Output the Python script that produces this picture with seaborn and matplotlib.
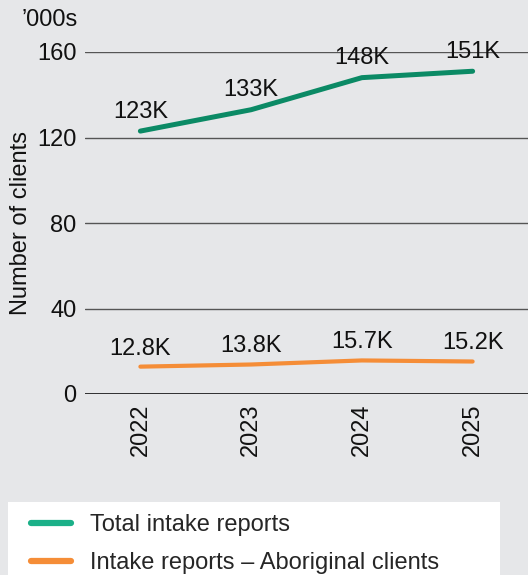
import matplotlib
matplotlib.use("Agg")
import matplotlib.pyplot as plt
from matplotlib.lines import Line2D
from matplotlib.patches import Rectangle
import seaborn as sns
import pandas as pd

years = ["2022", "2023", "2024", "2025"]
total_intake = [123, 133, 148, 151]          # '000s
aboriginal_intake = [12.8, 13.8, 15.7, 15.2]  # '000s
total_labels = ["123K", "133K", "148K", "151K"]
aboriginal_labels = ["12.8K", "13.8K", "15.7K", "15.2K"]
series_names = ["Total intake reports", "Intake reports \u2013 Aboriginal clients"]
y_ticks = [0, 40, 80, 120, 160]

BG = "#e6e7e9"
GREEN = "#0b8a65"
GREEN_KEY = "#1bb088"
ORANGE = "#f58d37"
FS = 17

sns.set_theme(style="white")
plt.rcParams["font.family"] = ["Liberation Sans", "DejaVu Sans"]

df = pd.DataFrame({
    "x": list(range(len(years))) * 2,
    "value": total_intake + aboriginal_intake,
    "series": [series_names[0]] * len(years) + [series_names[1]] * len(years),
})

fig = plt.figure(figsize=(5.28, 5.75), dpi=100, facecolor=BG)
ax = fig.add_axes([85 / 528, 1 - 394 / 575, 443 / 528, (394 - 52) / 575])
ax.set_facecolor(BG)

sns.lineplot(data=df, x="x", y="value", hue="series",
             palette=[GREEN, ORANGE], ax=ax, legend=False,
             linewidth=3.6, solid_capstyle="round")
ax.lines[1].set_linewidth(3.0)

ax.set_xlim(-0.5, 3.5)
ax.set_ylim(0, 160)
ax.set_yticks(y_ticks)
ax.set_yticklabels([str(t) for t in y_ticks])
ax.set_xticks(range(len(years)))
ax.set_xticklabels(years, rotation=90)
ax.tick_params(axis="both", length=0, labelsize=FS, colors="#111111")
ax.tick_params(axis="y", pad=6)
ax.tick_params(axis="x", pad=7)

for s in ax.spines.values():
    s.set_visible(False)
for t in y_ticks:
    ax.axhline(t, color="#111111" if t == 0 else "#555555",
               linewidth=1.2 if t == 0 else 1.0, zorder=0)

for i, (v, lab) in enumerate(zip(total_intake, total_labels)):
    ax.annotate(lab, (i, v), xytext=(0, 14), textcoords="offset points",
                ha="center", va="center", fontsize=FS, color="#111111",
                annotation_clip=False)
for i, (v, lab) in enumerate(zip(aboriginal_intake, aboriginal_labels)):
    ax.annotate(lab, (i, v), xytext=(0, 13), textcoords="offset points",
                ha="center", va="center", fontsize=FS, color="#111111",
                annotation_clip=False)

ax.set_xlabel("")
ax.set_ylabel("Number of clients", fontsize=FS, color="#111111")
ax.yaxis.set_label_coords(-0.12, 0.5)
fig.text(22 / 528, 1 - 20 / 575, "\u2019000s", fontsize=FS, color="#111111",
         ha="left", va="center")

# legend panel
fig.patches.append(Rectangle((8 / 528, 0), 492 / 528, 73 / 575,
                             transform=fig.transFigure, facecolor="white",
                             edgecolor="none", zorder=0))
handles = [Line2D([], [], color=GREEN_KEY, linewidth=4.5, solid_capstyle="round"),
           Line2D([], [], color=ORANGE, linewidth=4.5, solid_capstyle="round")]
fig.legend(handles, series_names, loc="upper left",
           bbox_to_anchor=(31 / 528, 1 - 514 / 575), frameon=False,
           fontsize=FS, handlelength=1.7, handletextpad=0.8,
           labelspacing=0.68, borderaxespad=0, borderpad=0)

fig.savefig("out.png", dpi=100, facecolor=BG)
